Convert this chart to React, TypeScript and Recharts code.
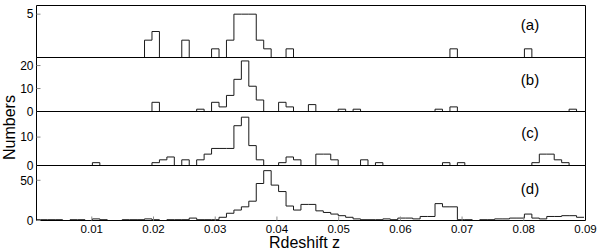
import React from 'react';
import { LineChart, Line, XAxis, YAxis } from 'recharts';

const FONT = '"Liberation Sans", Arial, Helvetica, sans-serif';

// histogram bins (redshift)
const BIN_START = 0.00044;
const BIN_WIDTH = 0.001207;
const X_DOMAIN: [number, number] = [0.00104, 0.09];
const X_TICKS = [0.01, 0.02, 0.03, 0.04, 0.05, 0.06, 0.07, 0.08, 0.09];

// counts per bin, 74 bins
const countsA = [
  0, 0, 0, 0, 0, 0, 0, 0, 0, 0,
  0, 0, 0, 0, 0, 2, 3, 0, 0, 0,
  2, 0, 0, 0, 1, 0, 2, 5, 5, 5,
  2, 1, 0, 0, 1, 0, 0, 0, 0, 0,
  0, 0, 0, 0, 0, 0, 0, 0, 0, 0,
  0, 0, 0, 0, 0, 0, 1, 0, 0, 0,
  0, 0, 0, 0, 0, 0, 1, 0, 0, 0,
  0, 0, 0, 0,
];
const countsB = [
  0, 0, 0, 0, 0, 0, 0, 0, 0, 0,
  0, 0, 0, 0, 0, 0, 4, 0, 0, 0,
  0, 0, 1, 0, 4, 2, 7, 14, 22, 11,
  5, 0, 0, 4, 2, 0, 0, 3, 0, 0,
  0, 1, 0, 1, 0, 0, 0, 0, 0, 0,
  0, 0, 0, 0, 1, 0, 2, 0, 0, 0,
  0, 0, 0, 0, 0, 0, 0, 0, 0, 0,
  0, 0, 1, 0,
];
const countsC = [
  0, 0, 0, 0, 0, 0, 0, 0, 1, 0,
  0, 0, 0, 0, 0, 0, 1, 2, 3, 0,
  2, 0, 2, 4, 6, 6, 6, 14, 17, 7,
  2, 0, 0, 1, 3, 2, 0, 0, 4, 4,
  2, 0, 0, 0, 2, 0, 1, 0, 0, 0,
  0, 0, 0, 0, 0, 1, 0, 1, 0, 0,
  0, 0, 0, 0, 0, 0, 0, 1, 4, 4,
  2, 1, 0, 0,
];
const countsD = [
  1, 1, 1, 1, 0, 1, 1, 0, 2, 1,
  0, 0, 1, 1, 1, 2, 1, 0, 1, 1,
  1, 3, 1, 1, 1, 4, 9, 13, 17, 24,
  46, 62, 44, 36, 18, 13, 20, 20, 12, 10,
  8, 6, 4, 2, 1, 1, 1, 2, 1, 3,
  3, 2, 5, 5, 21, 17, 17, 1, 1, 0,
  1, 1, 2, 2, 3, 3, 8, 3, 2, 5,
  5, 6, 6, 4,
];

const panelNames = ['(a)', '(b)', '(c)', '(d)'];
const panelCounts = [countsA, countsB, countsC, countsD];
const panelFirstBin = [2, 2, 2, 0];
const panelYMax = [6, 23.5, 19, 68.4];
const panelYTicks = [[5], [0, 10, 20], [0, 10], [0, 50]];

const X_LABEL = 'Rdeshift z';
const Y_LABEL = 'Numbers';

// layout (pixels)
const W = 600;
const H = 252;
const PLOT_LEFT = 36.5;
const PLOT_RIGHT = 585.5;
const PANEL_EDGES = [5.5, 57.5, 111.5, 165.5, 220.5];
const LABEL_Y = [30, 85, 138, 194];

function buildSteps(counts: number[], first: number) {
  const pts: { z: number; v: number }[] = [];
  for (let k = first; k < counts.length; k++) {
    pts.push({ z: BIN_START + k * BIN_WIDTH, v: counts[k] });
  }
  pts.push({ z: BIN_START + counts.length * BIN_WIDTH, v: counts[counts.length - 1] });
  return pts;
}

const tickLineStyle = { stroke: '#8a8a8a', strokeWidth: 1 };
const axisLineStyle = { stroke: '#000', strokeWidth: 1 };
const yTickText = { fontSize: 12, fill: '#000', fontFamily: FONT };
const xTickText = { fontSize: 11.5, fill: '#000', fontFamily: FONT };

function Panel({ idx }: { idx: number }) {
  const isLast = idx === 3;
  const top = PANEL_EDGES[idx];
  const bottom = PANEL_EDGES[idx + 1];
  const bottomAxisH = isLast ? 30 : 1;
  const data = buildSteps(panelCounts[idx], panelFirstBin[idx]);
  return (
    <div style={{ position: 'absolute', left: 0, top: 0 }}>
      <LineChart
        width={W}
        height={H}
        data={data}
        margin={{
          top: top - 1,
          right: W - PLOT_RIGHT - 1,
          left: PLOT_LEFT - 30,
          bottom: H - bottom - bottomAxisH,
        }}
      >
        <XAxis
          xAxisId="b"
          dataKey="z"
          type="number"
          domain={X_DOMAIN}
          allowDataOverflow
          ticks={X_TICKS}
          orientation="bottom"
          height={bottomAxisH}
          tickSize={-4}
          tickMargin={8.5}
          tickLine={tickLineStyle}
          axisLine={axisLineStyle}
          tick={isLast ? xTickText : false}
          interval={0}
        />
        <XAxis
          xAxisId="t"
          dataKey="z"
          type="number"
          domain={X_DOMAIN}
          allowDataOverflow
          ticks={X_TICKS}
          orientation="top"
          height={1}
          tickSize={-4}
          tickLine={tickLineStyle}
          axisLine={axisLineStyle}
          tick={false}
          interval={0}
        />
        <YAxis
          yAxisId="l"
          type="number"
          domain={[0, panelYMax[idx]]}
          allowDataOverflow
          ticks={panelYTicks[idx]}
          orientation="left"
          width={30}
          tickSize={-4}
          tickMargin={7}
          tickLine={tickLineStyle}
          axisLine={axisLineStyle}
          tick={yTickText}
          interval={0}
        />
        <YAxis
          yAxisId="r"
          type="number"
          domain={[0, panelYMax[idx]]}
          allowDataOverflow
          ticks={panelYTicks[idx]}
          orientation="right"
          width={1}
          tickSize={-4}
          tickLine={tickLineStyle}
          axisLine={axisLineStyle}
          tick={false}
          interval={0}
        />
        <Line
          xAxisId="b"
          yAxisId="l"
          dataKey="v"
          type="stepAfter"
          stroke="#1a1a1a"
          strokeWidth={1}
          dot={false}
          activeDot={false}
          isAnimationActive={false}
        />
        <Line
          xAxisId="t"
          yAxisId="r"
          dataKey="v"
          type="stepAfter"
          stroke="none"
          strokeWidth={0}
          dot={false}
          activeDot={false}
          isAnimationActive={false}
        />
      </LineChart>
    </div>
  );
}

export default function App() {
  return (
    <div style={{ position: 'absolute', left: 0, top: 0, width: W, height: H, background: '#fff' }}>
      {[0, 1, 2, 3].map((i) => (
        <Panel key={i} idx={i} />
      ))}
      <svg
        width={W}
        height={H}
        style={{ position: 'absolute', left: 0, top: 0, pointerEvents: 'none' }}
      >
        {panelNames.map((name, i) => (
          <text
            key={name}
            x={530}
            y={LABEL_Y[i]}
            textAnchor="middle"
            fontSize={15}
            fontFamily={FONT}
            fill="#000"
          >
            {name}
          </text>
        ))}
        <text
          x={304.5}
          y={248}
          textAnchor="middle"
          fontSize={16}
          fontFamily={FONT}
          fill="#000"
        >
          {X_LABEL}
        </text>
        <text
          transform="translate(15,127.5) rotate(-90)"
          textAnchor="middle"
          fontSize={16}
          fontFamily={FONT}
          fill="#000"
        >
          {Y_LABEL}
        </text>
      </svg>
    </div>
  );
}
